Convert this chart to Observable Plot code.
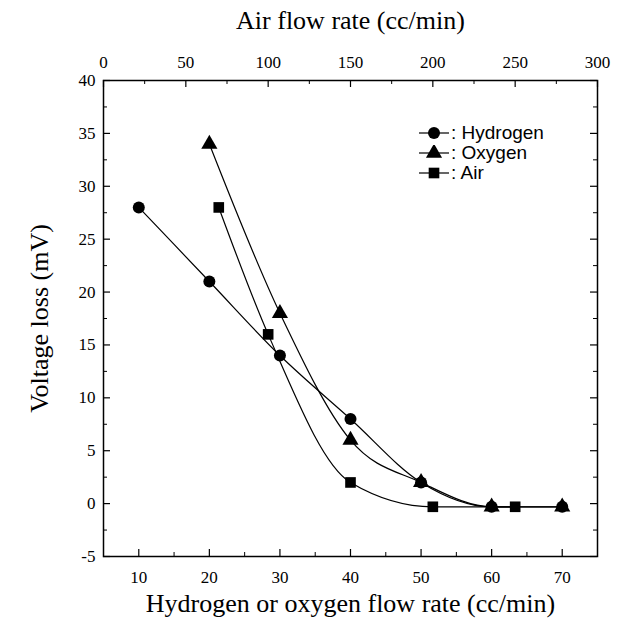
<!DOCTYPE html>
<html>
<head>
<meta charset="utf-8">
<script src="https://cdn.jsdelivr.net/npm/d3@7"></script>
<script src="https://cdn.jsdelivr.net/npm/@observablehq/plot@0.6"></script>
<style>
  html, body { margin: 0; padding: 0; background: #fff; }
  #wrap { position: relative; width: 628px; height: 629px; }
  #wrap svg { position: absolute; left: 0; top: 0; }
  #legend { position: absolute; left: 418px; top: 123px; font-family: "Liberation Sans", Arial, sans-serif; font-size: 19px; color: #000; }
  #legend .row { display: flex; align-items: center; height: 20px; }
  #legend svg { position: static; margin-right: 1px; }
</style>
</head>
<body>
<div id="wrap"></div>
<script>
// ---- data ----
const hydrogenFlow = [10, 20, 30, 40, 50, 60, 70];
const hydrogenLoss = [28, 21, 14, 8, 2, -0.3, -0.3];
const oxygenFlow = [20, 30, 40, 50, 60, 70];
const oxygenLoss = [34, 18, 6, 2, -0.3, -0.3];
const airFlow = [70, 100, 150, 200, 250];
const airLoss = [28, 16, 2, -0.3, -0.3];

const bottomTicks = [10, 20, 30, 40, 50, 60, 70];
const bottomMinor = [5, 15, 25, 35, 45, 55, 65, 75];
const topTicks = [0, 50, 100, 150, 200, 250, 300];
const topMinor = [25, 75, 125, 175, 225, 275];
const yTicks = [-5, 0, 5, 10, 15, 20, 25, 30, 35, 40];
const yMinor = [-2.5, 2.5, 7.5, 12.5, 17.5, 22.5, 27.5, 32.5, 37.5];

const seriesNames = ["Hydrogen", "Oxygen", "Air"];
const seriesSymbols = ["circle", "triangle", "square"];

// ---- layout ----
const W = 628, H = 629;
const mT = 80, mB = 73, mL = 103, mR = 31;
const plotW = W - mL - mR, plotH = H - mT - mB;
const serif = "'Liberation Serif', 'Times New Roman', serif";
const fmt = d => `${d}`;
const tickFont = 17, titleFont = 26;

const hoData = [
  ...hydrogenFlow.map((f, i) => ({series: "Hydrogen", flow: f, loss: hydrogenLoss[i]})),
  ...oxygenFlow.map((f, i) => ({series: "Oxygen", flow: f, loss: oxygenLoss[i]}))
];
const airData = airFlow.map((f, i) => ({series: "Air", flow: f, loss: airLoss[i]}));

const common = {
  width: W, height: H,
  marginTop: mT, marginBottom: mB, marginLeft: mL, marginRight: mR,
  symbol: {domain: seriesNames, range: seriesSymbols},
};

// main chart: hydrogen / oxygen on bottom axis
const main = Plot.plot({
  ...common,
  style: {fontFamily: serif, background: "white", color: "black"},
  x: {domain: [5, 75], axis: null},
  y: {domain: [-5, 40], axis: null},
  marks: [
    Plot.frame({stroke: "black", strokeWidth: 1.5}),
    // bottom axis tick labels
    Plot.text(bottomTicks, {x: d => d, text: fmt, frameAnchor: "bottom", lineAnchor: "top", dy: 14, fontSize: tickFont, fill: "black"}),
    // inward ticks bottom
    Plot.ruleX(bottomTicks, {x: d => d, insetTop: plotH - 7, stroke: "black", strokeWidth: 1.2}),
    Plot.ruleX(bottomMinor, {x: d => d, insetTop: plotH - 4, stroke: "black", strokeWidth: 1}),
    // y axis tick labels
    Plot.text(yTicks, {y: d => d, text: fmt, frameAnchor: "left", textAnchor: "end", lineAnchor: "middle", dx: -8, fontSize: tickFont, fill: "black"}),
    Plot.ruleY(yTicks, {y: d => d, insetRight: plotW - 7, stroke: "black", strokeWidth: 1.2}),
    Plot.ruleY(yMinor, {y: d => d, insetRight: plotW - 4, stroke: "black", strokeWidth: 1}),
    Plot.ruleY(yTicks, {y: d => d, insetLeft: plotW - 7, stroke: "black", strokeWidth: 1.2}),
    Plot.ruleY(yMinor, {y: d => d, insetLeft: plotW - 4, stroke: "black", strokeWidth: 1}),
    // titles
    Plot.text(["Hydrogen or oxygen flow rate (cc/min)"], {frameAnchor: "bottom", textAnchor: "middle", lineAnchor: "bottom", dy: 55, fontSize: titleFont, fill: "black"}),
    Plot.text(["Voltage loss (mV)"], {frameAnchor: "left", textAnchor: "middle", lineAnchor: "bottom", rotate: -90, dx: -56, fontSize: titleFont, fill: "black"}),
    // data
    Plot.line(hoData, {x: "flow", y: "loss", z: "series", curve: "monotone-x", stroke: "black", strokeWidth: 1.2}),
    Plot.dot(hoData, {x: "flow", y: "loss", symbol: "series", fill: "black", r: 6})
  ]
});

// overlay: air on top axis
const air = Plot.plot({
  ...common,
  style: {fontFamily: serif, background: "transparent", color: "black"},
  x: {domain: [0, 300], axis: null},
  y: {domain: [-5, 40], axis: null},
  marks: [
    Plot.text(topTicks, {x: d => d, text: fmt, frameAnchor: "top", lineAnchor: "bottom", dy: -13, fontSize: tickFont, fill: "black"}),
    Plot.ruleX(topTicks, {x: d => d, insetBottom: plotH - 7, stroke: "black", strokeWidth: 1.2}),
    Plot.ruleX(topMinor, {x: d => d, insetBottom: plotH - 4, stroke: "black", strokeWidth: 1}),
    Plot.text(["Air flow rate (cc/min)"], {frameAnchor: "top", textAnchor: "middle", lineAnchor: "bottom", dy: -52, fontSize: titleFont, fill: "black"}),
    Plot.line(airData, {x: "flow", y: "loss", curve: "monotone-x", stroke: "black", strokeWidth: 1.2}),
    Plot.dot(airData, {x: "flow", y: "loss", symbol: "series", fill: "black", r: 6})
  ]
});

const wrap = document.getElementById("wrap");
wrap.appendChild(main);
wrap.appendChild(air);

// legend
const legend = document.createElement("div");
legend.id = "legend";
const symGen = {circle: d3.symbolCircle, triangle: d3.symbolTriangle, square: d3.symbolSquare};
seriesNames.forEach((name, i) => {
  const row = document.createElement("div");
  row.className = "row";
  const s = d3.create("svg").attr("width", 32).attr("height", 16);
  s.append("line").attr("x1", 1).attr("x2", 31).attr("y1", 8).attr("y2", 8).attr("stroke", "black").attr("stroke-width", 1.2);
  s.append("path").attr("transform", "translate(16,8)").attr("d", d3.symbol(symGen[seriesSymbols[i]], 36 * Math.PI)()).attr("fill", "black");
  row.appendChild(s.node());
  const t = document.createElement("span");
  t.textContent = ": " + name;
  row.appendChild(t);
  legend.appendChild(row);
});
wrap.appendChild(legend);
</script>
</body>
</html>
